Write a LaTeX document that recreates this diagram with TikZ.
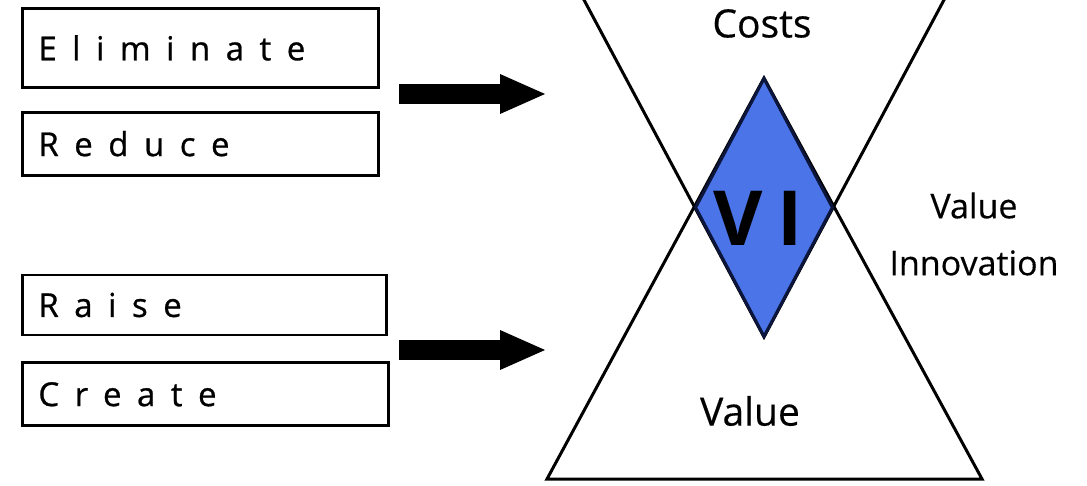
\documentclass[tikz,border=0pt]{standalone}
\usepackage{fontspec}
\setmainfont[FakeBold=0.4]{Open Sans}
\newfontfamily\spacedfont[LetterSpace=47, FakeBold=0.8]{Open Sans}
\newfontfamily\vifont[LetterSpace=20]{Open Sans}
\usetikzlibrary{shapes.geometric, arrows.meta, positioning}
\definecolor{viblue}{RGB}{74,116,232}
\definecolor{vinavy}{RGB}{12,22,60}
\tikzstyle{action} = [rectangle, draw=black, line width=2.8pt, minimum height=63pt, text width=324pt, inner xsep=16pt, inner ysep=0pt, align=left, font=\spacedfont\fontsize{33}{38}\selectfont]
\tikzstyle{bigarrow} = [line width=20pt, -{Triangle[length=47pt, width=36pt]}]
\tikzstyle{edge} = [line width=3pt, black]
\tikzstyle{zone} = [inner sep=0pt, font=\fontsize{39}{46}\selectfont]
\tikzstyle{gem} = [diamond, draw=vinavy, fill=viblue, line width=3pt, minimum width=138pt, minimum height=259pt, inner sep=0pt]

\begin{document}
\begin{tikzpicture}[x=1pt, y=1pt]
\useasboundingbox (0,0) rectangle (1087,485);

\node (elim) [action, anchor=north west, minimum height=79pt] at (21,478) {Eliminate};
\node (red) [action, below=22pt of elim.south west, anchor=north west] {Reduce};

\node (raise) [action, below=97pt of red.south west, anchor=north west, minimum height=60pt, text width=332pt] {Raise};
\node (create) [action, below=25pt of raise.south west, anchor=north west, text width=334pt] {Create};

% hourglass of the two triangles
\coordinate (vtop) at (764,407);
\coordinate (vleft) at (547,6);
\coordinate (vright) at (982,6);
\coordinate (cbottom) at (764,148);
\coordinate (cleft) at (578.7,495);
\coordinate (cright) at (949.3,495);
\draw[edge] (vleft) -- (vtop) -- (vright) -- cycle;
\draw[edge] (cleft) -- (cbottom) -- (cright);

\node (vi) [gem] at (764,277.5) {};
\node (vitext) [font=\vifont\bfseries\fontsize{76}{84}\selectfont, inner sep=0pt] at ([xshift=-6pt, yshift=-10.5pt]vi.center) {VI};

\node (costs) [zone] at (762,461.5) {Costs};
\node (value) [zone] at (750,74) {Value};
\node (vinno) [zone, align=center, font=\fontsize{34}{57}\selectfont] at (974,251) {Value\\Innovation};

\coordinate (cuttail) at (399,391);
\coordinate (cuthead) at (547,391);
\coordinate (growtail) at (399,135);
\coordinate (growhead) at (547,135);
\draw[bigarrow] (cuttail) -- (cuthead);
\draw[bigarrow] (growtail) -- (growhead);

\end{tikzpicture}
\end{document}
